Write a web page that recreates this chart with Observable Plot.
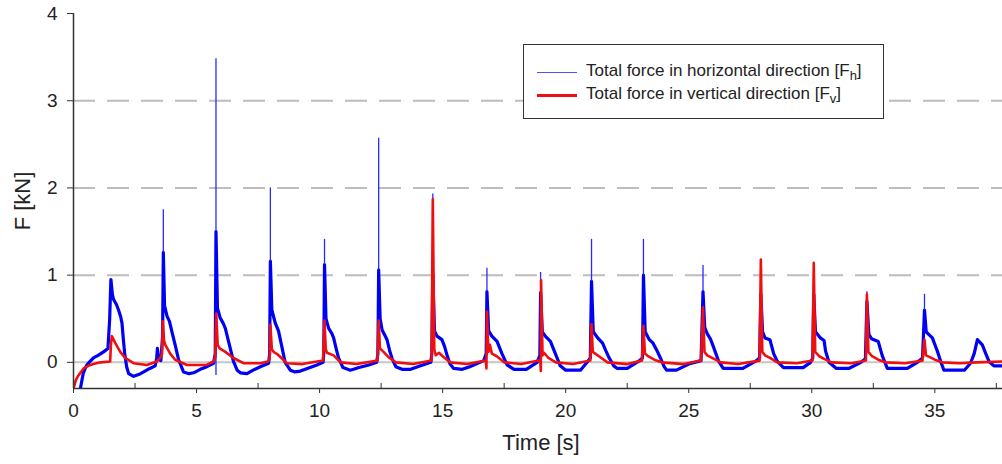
<!DOCTYPE html>
<html><head><meta charset="utf-8">
<script src="https://cdn.jsdelivr.net/npm/d3@7"></script>
<script src="https://cdn.jsdelivr.net/npm/@observablehq/plot@0.6"></script>
<style>
html,body{margin:0;padding:0;background:#fff;}
#wrap{position:relative;width:1002px;height:464px;font-family:"Liberation Sans",Arial,sans-serif;color:#222;}
#legend{position:absolute;left:523px;top:44px;width:359px;height:73px;border:1.5px solid #333;background:#fff;}
.lg-line{position:absolute;left:13px;width:40px;}
.lg-text{position:absolute;left:62px;font-size:17px;white-space:nowrap;line-height:18px;}
.lg-text sub{font-size:13px;vertical-align:-4px;line-height:0;}
</style></head>
<body>
<div id="wrap">
  <div id="legend">
    <div class="lg-line" style="top:27px;height:1px;background:#5050ff;"></div>
    <div class="lg-text" style="top:17px;">Total force in horizontal direction [F<sub>h</sub>]</div>
    <div class="lg-line" style="top:49px;height:2.5px;background:#ee1010;"></div>
    <div class="lg-text" style="top:40px;">Total force in vertical direction [F<sub>v</sub>]</div>
  </div>
</div>
<script>
const xDomain = [0, 37.75];
const yDomain = [-0.3, 4];
const xMajorTicks = [0, 5, 10, 15, 20, 25, 30, 35];
const xMinorTicks = [2.5, 7.5, 12.5, 17.5, 22.5, 27.5, 32.5, 37.5];
const yTicks = [0, 1, 2, 3, 4];
const yGridDashed = [1, 2, 3];
const yGridSolid = [0];
const xLabel = "Time [s]";
const yLabel = "F [kN]";

// Horizontal force (blue) – body of the signal
const hTime = [
 0.2,0.4,0.54,0.7,0.81,1.0,1.22,1.40,1.47,1.52,1.58,1.63,1.75,1.83,1.92,1.97,2.03,2.08,2.16,2.24,2.44,2.65,2.85,3.1,3.32,3.38,3.41,3.45,3.55,3.62,
 3.65,3.70,3.80,3.90,4.0,4.13,4.27,4.47,4.7,4.88,5.15,5.42,5.69,5.76,
 5.79,5.85,5.96,6.08,6.17,6.30,6.5,6.65,6.78,7.05,7.3,7.59,7.93,7.97,
 8.0,8.06,8.2,8.33,8.45,8.6,8.81,9.0,9.22,9.5,9.89,10.14,10.17,
 10.2,10.26,10.37,10.5,10.57,10.68,10.77,10.95,11.25,11.6,12.0,12.32,12.37,
 12.4,12.46,12.54,12.65,12.74,12.85,12.95,13.1,13.35,13.7,14.1,14.52,14.56,
 14.6,14.67,14.77,14.97,15.08,15.18,15.3,15.45,15.8,16.1,16.67,16.77,
 16.8,16.87,17.0,17.21,17.41,17.62,17.9,18.4,18.84,18.95,
 18.98,19.05,19.17,19.38,19.58,19.78,20.0,20.6,20.87,21.0,
 21.05,21.12,21.3,21.5,21.62,21.75,21.95,22.1,22.5,23.0,23.12,
 23.16,23.23,23.4,23.55,23.7,23.85,24.0,24.1,24.5,25.0,25.5,
 25.58,25.65,25.75,25.88,26.0,26.22,26.4,27.2,27.7,27.88,
 27.93,28.0,28.1,28.3,28.45,28.6,28.85,29.65,29.95,30.04,
 30.08,30.15,30.35,30.5,30.56,30.7,31.0,31.5,32.0,32.18,
 32.24,32.32,32.43,32.7,32.86,33.0,33.07,33.88,34.29,34.5,
 34.58,34.65,34.75,34.9,35.1,35.24,35.37,36.2,36.45,36.6,36.73,36.93,37.07,37.2,37.4,37.75
];
const hForce = [
 -0.42,-0.12,-0.03,0.02,0.05,0.08,0.12,0.16,0.5,0.95,0.78,0.72,0.66,0.60,0.52,0.45,0.25,0.10,-0.05,-0.13,-0.16,-0.14,-0.11,-0.07,-0.04,0.05,0.16,0.04,0.02,0.3,
 1.26,0.65,0.53,0.47,0.35,0.2,0.03,-0.11,-0.13,-0.12,-0.08,-0.05,-0.01,0.1,
 1.5,0.62,0.51,0.45,0.39,0.24,0.01,-0.09,-0.12,-0.13,-0.09,-0.05,-0.01,0.1,
 1.16,0.6,0.45,0.36,0.2,0.0,-0.09,-0.11,-0.1,-0.07,-0.03,0.0,0.1,
 1.12,0.5,0.39,0.33,0.28,0.15,0.05,-0.06,-0.09,-0.06,-0.03,0.0,0.1,
 1.06,0.5,0.37,0.31,0.26,0.13,0.04,-0.05,-0.08,-0.08,-0.04,0.0,0.1,
 1.0,0.36,0.30,0.26,0.18,0.08,-0.02,-0.07,-0.08,-0.05,0.02,0.1,
 0.81,0.36,0.30,0.24,0.10,-0.03,-0.08,-0.08,0.0,0.08,
 0.8,0.35,0.30,0.24,0.10,-0.04,-0.09,-0.09,0.0,0.05,
 0.93,0.35,0.28,0.22,0.14,0.06,-0.04,-0.07,-0.07,0.02,0.05,
 1.0,0.35,0.26,0.22,0.14,0.05,-0.05,-0.09,-0.09,-0.02,0.02,
 0.81,0.4,0.33,0.27,0.18,0.01,-0.07,-0.07,0.01,0.05,
 0.78,0.35,0.28,0.26,0.1,0.01,-0.06,-0.06,0.0,0.05,
 0.78,0.35,0.28,0.25,0.13,0.0,-0.07,-0.07,0.0,0.04,
 0.7,0.32,0.27,0.24,0.08,-0.02,-0.07,-0.07,0.0,0.05,
 0.6,0.35,0.32,0.28,0.13,0.01,-0.09,-0.09,-0.01,0.1,0.26,0.2,0.1,0.01,-0.04,-0.04
];

// Horizontal force (blue) – thin peaks above the body
const hSpikeTime = [3.65, 5.79, 5.79, 8.0, 10.2, 12.4, 14.6, 16.8, 18.98, 21.05, 23.16, 25.58, 32.24, 34.58];
const hSpikeLow  = [1.26, 1.5, -0.15, 1.16, 1.12, 1.06, 1.0, 0.81, 0.8, 0.93, 1.0, 0.81, 0.7, 0.6];
const hSpikeHigh = [1.75, 3.48, 0.1, 2.0, 1.41, 2.57, 1.93, 1.08, 1.03, 1.41, 1.41, 1.11, 0.81, 0.78];

// Vertical force (red)
const vTime = [
 0,0.1,0.2,0.41,0.6,0.81,1.1,1.49,1.52,1.56,1.7,1.9,2.1,2.44,2.98,3.39,3.52,3.6,
 3.63,3.68,3.73,3.93,4.13,4.61,5.4,5.69,5.76,
 5.8,5.86,5.94,6.17,6.5,6.91,7.6,7.9,7.97,
 8.0,8.06,8.13,8.3,8.67,9.3,10.14,
 10.2,10.25,10.3,10.57,10.85,11.5,12.35,
 12.4,12.45,12.6,12.8,13.1,13.8,14.55,
 14.6,14.66,14.72,14.85,15.0,15.3,16.0,16.75,16.78,
 16.8,16.86,16.92,17.0,17.2,17.5,18.2,18.9,18.97,18.99,
 19.0,19.06,19.12,19.3,19.6,20.3,21.0,
 21.05,21.1,21.2,21.35,21.7,22.5,23.1,
 23.16,23.22,23.35,23.6,23.9,24.8,25.5,
 25.58,25.64,25.75,25.95,26.3,27.0,27.88,
 27.93,27.99,28.1,28.3,28.6,29.4,30.03,
 30.08,30.14,30.3,30.5,30.8,31.6,32.2,
 32.24,32.3,32.45,32.7,33.0,33.8,34.5,
 34.58,34.64,34.8,35.0,35.3,36.0,36.7,37.75
];
const vForce = [
 -0.3,-0.2,-0.15,-0.07,-0.04,-0.02,0.0,0.01,0.2,0.30,0.22,0.12,0.05,-0.01,-0.03,0.01,0.05,0.1,
 0.47,0.25,0.20,0.1,0.03,-0.03,-0.03,0.01,0.06,
 0.56,0.2,0.16,0.12,0.05,-0.01,-0.01,0.01,0.04,
 0.43,0.15,0.12,0.09,-0.01,-0.02,0.02,
 0.48,0.15,0.11,0.08,0.0,-0.02,0.02,
 0.48,0.16,0.12,0.06,0.0,-0.02,0.02,
 1.87,0.15,0.08,0.11,0.07,0.0,-0.02,0.02,-0.07,
 0.58,0.12,0.2,0.1,0.07,0.0,-0.02,0.02,0.02,-0.1,
 0.94,0.08,0.11,0.05,0.0,-0.02,0.02,
 0.44,0.12,0.1,0.07,0.0,-0.02,0.02,
 0.42,0.1,0.07,0.03,0.0,-0.02,0.02,
 0.63,0.12,0.08,0.05,0.0,-0.02,0.02,
 1.18,0.12,0.08,0.05,0.0,-0.01,0.02,
 1.14,0.12,0.07,0.04,0.0,-0.01,0.02,
 0.78,0.12,0.07,0.03,0.0,-0.01,0.02,
 0.26,0.08,0.06,0.03,0.0,-0.01,0.0,0.01
];

const hData = hTime.map((t, i) => ({t, f: hForce[i]}));
const hSpikes = hSpikeTime.map((t, i) => ({t, lo: hSpikeLow[i], hi: hSpikeHigh[i]}));
const vData = vTime.map((t, i) => ({t, f: vForce[i]}));

const chart = Plot.plot({
  width: 1002,
  height: 464,
  marginLeft: 73,
  marginRight: 0,
  marginTop: 13,
  marginBottom: 76,
  x: {domain: xDomain},
  y: {domain: yDomain},
  style: {fontFamily: "'Liberation Sans', Arial, sans-serif", fontSize: "19px", color: "#222", background: "#fff", overflow: "visible"},
  marks: [
    Plot.ruleY(yGridSolid, {stroke: "#c6c6c6", strokeWidth: 2}),
    Plot.ruleY(yGridDashed, {stroke: "#bdbdbd", strokeWidth: 2, strokeDasharray: "22,12"}),
    Plot.line(hData, {x: "t", y: "f", stroke: "#0000f5", strokeWidth: 3.2, clip: true}),
    Plot.ruleX(hSpikes, {x: "t", y1: "lo", y2: "hi", stroke: "#2a2aff", strokeWidth: 1.3}),
    Plot.line(vData, {x: "t", y: "f", stroke: "#f00f0f", strokeWidth: 2.6, clip: true}),
    Plot.ruleX([xDomain[0]], {stroke: "#333", strokeWidth: 1.5}),
    Plot.ruleY([yDomain[0]], {stroke: "#333", strokeWidth: 1.5}),
    Plot.axisY(yTicks, {tickSize: 6, tickPadding: 10, fontSize: 19, tickFormat: "d", label: null, stroke: "#333"}),
    Plot.axisX(xMajorTicks, {tickSize: 5, tickPadding: 10, fontSize: 19, tickFormat: "d", label: null, stroke: "#333"}),
    Plot.axisX(xMinorTicks, {tickSize: -5, tickFormat: () => "", label: null, stroke: "#333"}),
    Plot.text([yLabel], {text: d => d, frameAnchor: "left", textAnchor: "middle", dx: -51, rotate: -90, fontSize: 22, fill: "#222"}),
    Plot.text([xLabel], {text: d => d, frameAnchor: "bottom", textAnchor: "middle", dx: 3, dy: 61, fontSize: 22, fill: "#222"})
  ]
});
document.getElementById("wrap").insertBefore(chart, document.getElementById("legend"));
</script>
</body></html>
